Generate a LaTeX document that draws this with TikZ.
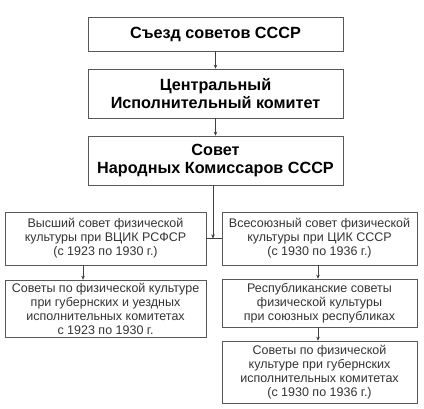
\documentclass[tikz,border=0pt]{standalone}
\usepackage{fontspec}
\setmainfont{Liberation Sans}
\usetikzlibrary{arrows.meta}
\begin{document}
\begin{tikzpicture}[x=1pt,y=-1pt,
  box/.style={draw=black!65, line width=0.6pt, inner sep=0pt, align=center},
  topbox/.style={box, minimum width=255pt, font=\fontsize{16.2}{18.5}\selectfont\bfseries},
  lowbox/.style={box, text=black!80, font=\fontsize{12.5}{14}\selectfont},
  arr/.style={-{Stealth[length=4pt,width=3.5pt]}, draw=black!75, line width=0.5pt},
  conn/.style={draw=black!75, line width=0.5pt}]
\useasboundingbox (0,0) rectangle (424,408);
\node[topbox, minimum height=34pt] (b1) at (215.5,34) {Съезд советов СССР};
\node[topbox, minimum height=49pt] (b2) at (215.5,93.5) {Центральный\\Исполнительный комитет};
\node[topbox, minimum height=49pt] (b3) at (215.5,160.5) {Совет\\Народных Комиссаров СССР};
\node[lowbox, minimum width=201pt, minimum height=53pt] (l1) at (105.5,238.5) {Высший совет физической\\культуры при ВЦИК РСФСР\\(с 1923 по 1930 г.)};
\node[lowbox, minimum width=201pt, minimum height=57pt] (l2) at (105.5,308.5) {Советы по физической культуре\\при губернских и уездных\\исполнительных комитетах\\с 1923 по 1930 г.};
\node[lowbox, minimum width=195pt, minimum height=53pt] (r1) at (319.5,238.5) {Всесоюзный совет физической\\культуры при ЦИК СССР\\(с 1930 по 1936 г.)};
\node[lowbox, minimum width=195pt, minimum height=48pt] (r2) at (319.5,303) {Республиканские советы\\физической культуры\\при союзных республиках};
\node[lowbox, minimum width=195pt, minimum height=62pt] (r3) at (319.5,372) {Советы по физической\\культуре при губернских\\исполнительных комитетах\\(с 1930 по 1936 г.)};
\coordinate (j) at (213,238.5);
\coordinate (la) at (83,0);
\coordinate (ra) at (318,0);
\draw[arr] (b1.south) -- (b2.north);
\draw[arr] (b2.south) -- (b3.north);
\draw[conn] (l1.east) -- (r1.west);
\draw[arr] (b3.south -| j) -- (j);
\draw[arr] (l1.south -| la) -- (l2.north -| la);
\draw[arr] (r1.south -| ra) -- (r2.north -| ra);
\draw[arr] (r2.south -| ra) -- (r3.north -| ra);
\end{tikzpicture}
\end{document}
